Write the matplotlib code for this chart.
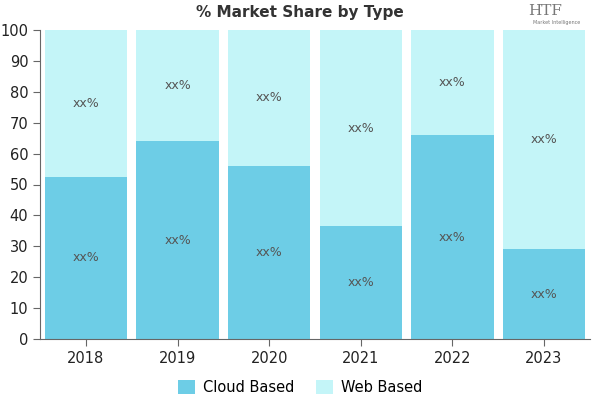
import numpy as np
import matplotlib.pyplot as plt

# Data
years = ['2018', '2019', '2020', '2021', '2022', '2023']
cloud = [52.5, 64, 56, 36.5, 66, 29]
web = [100 - c for c in cloud]
seg_label = 'xx%'

cloud_color = '#6dcde6'
web_color = '#c4f5f8'

fig = plt.figure(figsize=(6, 4), dpi=100)
ax = fig.add_axes([0.067, 0.1525, 0.916, 0.7725])

x = np.arange(len(years))
ax.bar(x, cloud, width=0.9, color=cloud_color, label='Cloud Based')
ax.bar(x, web, width=0.9, bottom=cloud, color=web_color, label='Web Based')

# segment labels
for i in range(len(years)):
    ax.text(x[i], cloud[i] / 2, seg_label, ha='center', va='center',
            fontsize=9, color='#555555')
    ax.text(x[i], cloud[i] + web[i] / 2, seg_label, ha='center', va='center',
            fontsize=9, color='#555555')

ax.set_xlim(-0.5, len(years) - 0.5)
ax.set_ylim(0, 100)
ax.set_yticks(range(0, 101, 10))
ax.set_xticks(x)
ax.set_xticklabels(years)
ax.tick_params(axis='both', labelsize=10.5, color='#666666', length=5,
               labelcolor='#222222')
for s in ['top', 'right']:
    ax.spines[s].set_visible(False)
for s in ['left', 'bottom']:
    ax.spines[s].set_color('#666666')

fig.text(0.5, 0.968, '% Market Share by Type', ha='center', va='center',
         fontsize=11, fontweight='bold', color='#333333')

# logo
fig.text(0.908, 0.972, 'HTF', ha='center', va='center', fontsize=11,
         family='DejaVu Serif', color='#777777')
fig.text(0.927, 0.943, 'Market Intelligence', ha='center', va='center',
         fontsize=3.5, color='#777777')

leg = fig.legend(loc='center', bbox_to_anchor=(0.5, 0.032), ncol=2,
                 frameon=False, fontsize=10.5, handlelength=1.2,
                 handleheight=1.2, columnspacing=1.5, handletextpad=0.5)

fig.savefig('out.png', dpi=100)
